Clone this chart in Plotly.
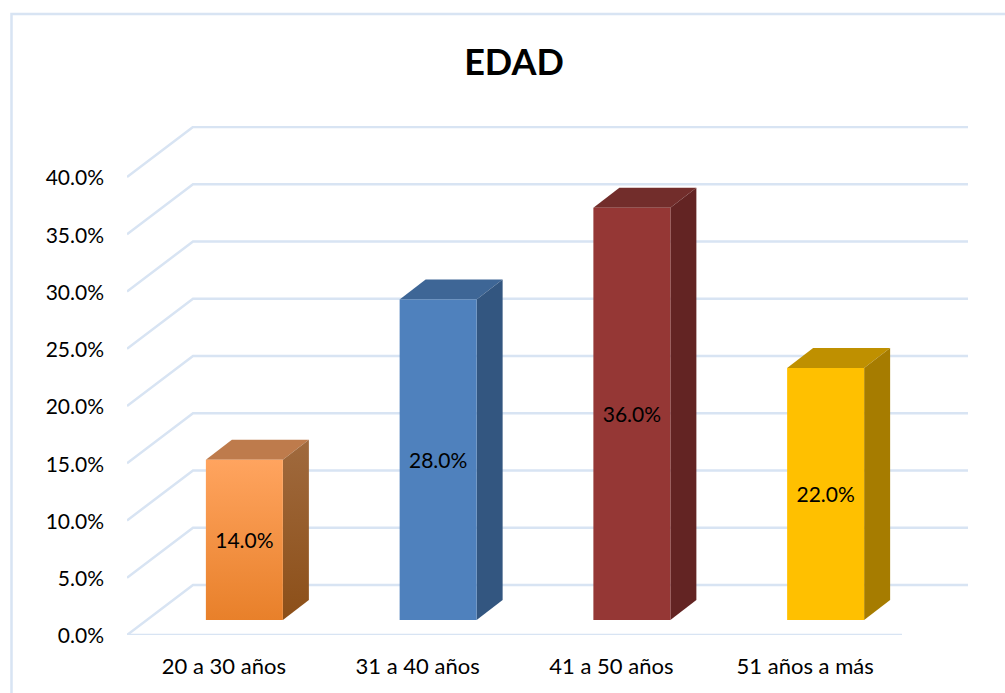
import plotly.graph_objects as go

# --- data ---
title = "EDAD"
categories = ["20 a 30 años", "31 a 40 años", "41 a 50 años", "51 años a más"]
values = [14.0, 28.0, 36.0, 22.0]
y_ticks = [0, 5, 10, 15, 20, 25, 30, 35, 40]
front_top = ["#FFA45F", "#4F81BD", "#953735", "#FFC000"]
front_bottom = ["#E8802A", "#4F81BD", "#953735", "#FFC000"]
side_top = ["#A06A3E", "#335680", "#632423", "#A67C00"]
side_bottom = ["#8C4F18", "#335680", "#632423", "#A67C00"]
roof = ["#BE7B4C", "#3E6696", "#722D2B", "#BF9000"]

# --- layout geometry (pixels) ---
W, H = 1005, 693
LEFT, RIGHT_END, TOP, FLOOR = 127, 970, 126, 635
CELL = 193.75
UNIT = 11.45
GRID = "#D8E4F3"
FONT = "Lato"


def px_x(p):
    return p / CELL


def px_y(p):
    return p / UNIT


wall_dx, wall_dy = px_x(66), px_y(50)
wall_end = -0.5 + px_x(968 - LEFT)
floor_end = -0.5 + px_x(902 - LEFT)
bar_dx, bar_base = px_x(20.5), px_y(15)
bar_half = px_x(38.5)
depth_dx, depth_dy = px_x(26), px_y(20)
label_drop = px_y(3)

fig = go.Figure()

# wall gridlines: diagonal from the front edge, then along the back wall
gx, gy = [], []
for t in y_ticks:
    gx += [-0.5, -0.5 + wall_dx, wall_end, None]
    gy += [t, t + wall_dy, t + wall_dy, None]
fig.add_trace(go.Scatter(x=gx, y=gy, mode="lines", line=dict(color=GRID, width=2.5),
                         hoverinfo="skip", cliponaxis=False))
fig.add_trace(go.Scatter(x=[-0.5, floor_end], y=[0, 0], mode="lines",
                         line=dict(color=GRID, width=2.5), hoverinfo="skip", cliponaxis=False))

# bars
for i, v in enumerate(values):
    x0 = i + bar_dx - bar_half
    x1 = i + bar_dx + bar_half
    y0 = bar_base
    y1 = bar_base + v
    polys = [
        ([x0, x1, x1 + depth_dx, x0 + depth_dx, x0],
         [y1, y1, y1 + depth_dy, y1 + depth_dy, y1], roof[i], roof[i]),
        ([x1, x1 + depth_dx, x1 + depth_dx, x1, x1],
         [y0, y0 + depth_dy, y1 + depth_dy, y1, y0], side_bottom[i], side_top[i]),
        ([x0, x1, x1, x0, x0],
         [y0, y0, y1, y1, y0], front_bottom[i], front_top[i]),
    ]
    for px, py, c0, c1 in polys:
        fig.add_trace(go.Scatter(
            x=px, y=py, mode="lines", fill="toself",
            line=dict(color="rgba(255,255,255,0.0)", width=0),
            fillgradient=dict(type="vertical", colorscale=[[0, c0], [1, c1]]),
            hoverinfo="skip", cliponaxis=False))

# data labels
fig.add_trace(go.Scatter(
    x=[i + bar_dx for i in range(len(values))],
    y=[bar_base + v / 2 - label_drop for v in values],
    mode="text", text=[f"{v:.1f}%" for v in values],
    textposition="middle center",
    textfont=dict(family=FONT, size=21, color="#000000"),
    hoverinfo="skip", cliponaxis=False))

fig.update_layout(
    width=W, height=H, autosize=False,
    margin=dict(l=LEFT, r=W - RIGHT_END, t=TOP, b=H - FLOOR, pad=0),
    paper_bgcolor="white", plot_bgcolor="white",
    showlegend=False,
    font=dict(family=FONT, size=21, color="#000000"),
    title=dict(text=f"<b>{title}</b>", x=514 / W, xanchor="center",
               y=1 - 62 / H, yanchor="middle",
               font=dict(family=FONT, size=36, color="#000000")),
    xaxis=dict(range=[-0.5, -0.5 + px_x(RIGHT_END - LEFT)], tickvals=list(range(len(categories))),
               ticktext=categories, showgrid=False, zeroline=False, showline=False,
               ticks="", ticklabelstandoff=16, fixedrange=True,
               tickfont=dict(family=FONT, size=22, color="#000000")),
    yaxis=dict(range=[0, px_y(FLOOR - TOP)], tickvals=y_ticks,
               ticktext=[f"{t:.1f}%" for t in y_ticks], showgrid=False, zeroline=False,
               showline=False, ticks="", ticklabelstandoff=22, ticklabelshift=1, fixedrange=True),
    shapes=[dict(type="path", xref="paper", yref="paper", layer="below",
                 path=f"M {(11.5 - LEFT) / (RIGHT_END - LEFT)} {(FLOOR - H - 5) / (FLOOR - TOP)} "
                      f"L {(11.5 - LEFT) / (RIGHT_END - LEFT)} {(FLOOR - 14) / (FLOOR - TOP)} "
                      f"L {(W + 5 - LEFT) / (RIGHT_END - LEFT)} {(FLOOR - 14) / (FLOOR - TOP)}",
                 line=dict(color=GRID, width=2.5))],
)

fig.write_html("out.html", post_script="document.body.style.margin='0';",
               config=dict(displayModeBar=False))
